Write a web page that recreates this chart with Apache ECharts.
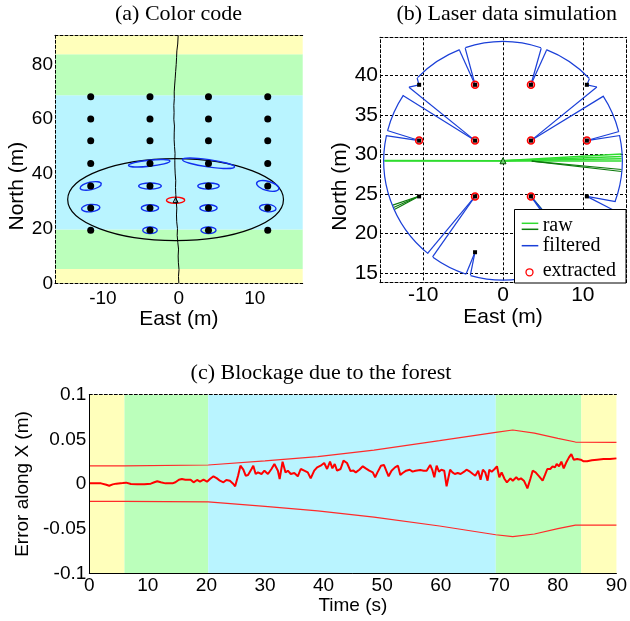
<!DOCTYPE html>
<html>
<head>
<meta charset="utf-8">
<script src="https://cdn.jsdelivr.net/npm/echarts@6/dist/echarts.min.js"></script>
<style>
  html, body { margin: 0; padding: 0; background: #fff; }
  #chart { width: 630px; height: 621px; }
</style>
</head>
<body>
<div id="chart"></div>
<script>
// ---------- (a) colour code ----------
var bandNorthA = [0, 5.2, 19.7, 68.8, 83.8, 90.8];
var bandKindA = ['open', 'edge', 'forest', 'edge', 'open'];
var treeEastA = [-11.6, -3.8, 3.9, 11.7];
var treeNorthA = [19.4, 27.5, 35.6, 43.8, 52.1, 60.1, 68.2];
var trajNorth = [0, 2.5, 5, 7.5, 10, 12.5, 15, 17.5, 20, 22.5, 25, 27.5, 30, 32.5, 35, 37.5, 40, 42.5, 45,
  47.5, 50, 52.5, 55, 57.5, 60, 62.5, 65, 67.5, 70, 72.5, 75, 77.5, 80, 82.5, 85, 87.5, 90.6];
var trajEast = [0.00, -0.05, 0.02, -0.06, -0.09, -0.04, -0.14, -0.22, -0.18, -0.28, -0.31, -0.27, -0.35,
  -0.40, -0.44, -0.41, -0.48, -0.52, -0.53, -0.50, -0.57, -0.62, -0.61, -0.58, -0.66, -0.63, -0.66,
  -0.60, -0.61, -0.55, -0.48, -0.42, -0.35, -0.30, -0.26, -0.15, -0.09];
// uncertainty ellipses of the mapped trees: centre, semi axes (m), tilt (deg)
var ellEast = [-3.9, 3.9, -11.6, -3.8, 3.9, 11.7, -11.6, -3.8, 3.9, 11.7, -3.8, 3.9];
var ellNorth = [43.9, 43.9, 35.6, 35.6, 35.6, 35.6, 27.5, 27.5, 27.5, 27.5, 19.4, 19.4];
var ellSemiE = [2.74, 3.46, 1.42, 1.49, 1.41, 1.51, 1.21, 1.14, 1.14, 1.09, 0.95, 0.99];
var ellSemiN = [1.1, 1.35, 1.39, 1.1, 1.1, 1.7, 1.35, 1.2, 1.2, 1.35, 1.2, 1.2];
var ellTilt = [6, -8, 12, 0, 0, -15, 5, 0, 0, -5, 0, 0];
var vehicleA = [-0.43, 30.4];
var vehicleEllA = [-0.43, 30.4, 1.2, 1.1, 0];
var rangeEllA = [-0.43, 30.6, 14.2, 15.0, 0];

// ---------- (b) laser data simulation ----------
var scanOrigin = [0, 29.2];
var scanMax = 15;
var scanBearing = [-74.2, -73.1, -72.1, -54.0, -52.1, -51.1, -24.2, -23.2, -20.1, 12.3, 13.7, 14.3,
  33.0, 36.1, 38.4, 42.4, 43.8, 68.7, 70.0, 71.4, 108.4, 110.0, 111.3, 135.8, 137.6, 141.7, 143.9,
  146.6, 165.2, 166.3, 167.8, 231.1, 232.1, 234.0, 252.1, 253.1, 254.2];
var scanRange = [15, 12.07, 15, 15, 5.70, 15, 15, 11.42, 15, 15, 10.80, 15, 15, 4.33, 15, 14.23, 15,
  15, 10.22, 15, 15, 10.22, 15, 15, 14.23, 15, 4.33, 15, 15, 10.80, 15, 15, 5.70, 15, 15, 12.07, 15];
var treesB = [[-10.5, 38.8], [-3.5, 38.8], [3.5, 38.8], [10.5, 38.8], [-10.5, 31.75], [-3.5, 31.75],
  [3.5, 31.75], [10.5, 31.75], [-10.5, 24.7], [-3.5, 24.7], [3.5, 24.7], [10.5, 24.7], [-3.5, 17.65], [3.5, 17.65]];
var extractedB = [[-3.5, 38.8], [3.5, 38.8], [-10.5, 31.75], [-3.5, 31.75], [3.5, 31.75], [10.5, 31.75],
  [-3.5, 24.7], [3.5, 24.7]];
var rawLightFrom = [[0, 29.2], [0, 29.2], [0, 29.2], [0, 29.2], [0, 29.2], [0, 29.2]];
var rawLightTo = [[-14.85, 29.15], [-14.85, 29.25], [14.85, 30.05], [14.85, 29.75], [14.85, 29.45], [14.85, 29.2]];
var rawDarkFrom = [[3.6, 29.15], [3.6, 29.15], [-10.45, 24.75], [-10.45, 24.75], [-10.45, 24.75], [3.6, 24.6]];
var rawDarkTo = [[14.85, 28.1], [14.85, 27.85], [-13.8, 23.6], [-13.7, 23.3], [-13.6, 23.05], [9.6, 17.3]];

// ---------- (c) blockage due to the forest ----------
var bandTimeC = [0, 6, 20.3, 69.4, 84, 90];
var bandKindC = ['open', 'edge', 'forest', 'edge', 'open'];
var boundT = [0, 6, 20.3, 30, 39, 48.6, 59.8, 69.4, 72.3, 76, 80, 83, 90];
var boundUp = [0.0202, 0.0202, 0.0213, 0.026, 0.0306, 0.038, 0.0485, 0.0578, 0.0605, 0.057, 0.051, 0.047, 0.0466];
var boundLo = [-0.0195, -0.0195, -0.020, -0.025, -0.030, -0.037, -0.047, -0.0568, -0.059, -0.056, -0.050, -0.046, -0.046];
var errT = [0, 0.6, 2.0, 2.3, 2.9, 3.4, 4.0, 4.6, 5.7, 6.3, 7.1, 8.2, 9.4, 10.5, 11.1, 11.6, 12.2, 13.0,
  14.2, 14.7, 15.3, 15.8, 16.4, 16.7, 17.3, 17.8, 18.4, 18.9, 19.5, 20.1, 20.4, 20.6, 21.2, 21.8, 22.3,
  22.9, 23.4, 24.0, 24.6, 24.9, 25.4, 25.8, 26.3, 26.7, 27.1, 27.7, 28.0, 28.4, 28.8, 29.4, 29.9, 30.5,
  31.1, 31.6, 32.2, 32.5, 33.0, 33.5, 33.9, 34.4, 35.0, 35.6, 36.1, 36.7, 37.3, 37.8, 38.4, 38.9, 39.5,
  40.1, 40.6, 41.1, 41.5, 41.9, 42.3, 42.9, 43.4, 44.0, 44.6, 45.1, 45.5, 46.1, 46.7, 47.2, 47.8, 48.4,
  48.8, 49.2, 49.8, 50.3, 50.7, 51.1, 51.6, 52.2, 52.7, 53.1, 53.5, 54.1, 54.7, 55.2, 55.7, 56.0, 56.5,
  57.1, 57.6, 57.9, 58.2, 58.6, 58.9, 59.3, 59.7, 60.1, 60.6, 61.0, 61.6, 62.0, 62.4, 62.9, 63.4, 64.0,
  64.4, 65.0, 65.5, 65.9, 66.4, 66.8, 67.2, 67.6, 68.0, 68.3, 68.7, 69.2, 69.6, 70.0, 70.4, 70.9, 71.3,
  71.9, 72.3, 72.9, 73.3, 73.7, 74.2, 74.6, 74.8, 75.3, 75.7, 76.2, 76.8, 77.4, 77.8, 78.2, 78.7, 79.1,
  79.5, 79.8, 80.2, 80.6, 81.0, 81.5, 81.9, 82.3, 82.7, 83.3, 83.9, 84.4, 85.0, 85.8, 86.7, 87.8, 88.9, 90.0];
var errX = [0.0007, 0.0007, 0.0007, 0.0000, -0.0008, -0.0019, -0.0004, 0.0004, 0.0011, 0.0015, 0.0000,
  -0.0004, -0.0004, 0.0004, 0.0019, 0.0030, 0.0019, 0.0007, 0.0007, 0.0019, 0.0048, 0.0056, 0.0048,
  0.0026, 0.0048, 0.0019, 0.0045, 0.0026, 0.0048, 0.0026, 0.0007, 0.0056, 0.0086, 0.0063, 0.0037,
  0.0019, 0.0045, 0.0037, 0.0000, -0.0026, 0.0093, 0.0205, 0.0160, 0.0093, 0.0100, 0.0168, 0.0205,
  0.0112, 0.0130, 0.0112, 0.0149, 0.0112, 0.0168, 0.0224, 0.0149, 0.0056, 0.0250, 0.0130, 0.0149,
  0.0112, 0.0123, 0.0086, 0.0168, 0.0149, 0.0130, 0.0063, 0.0149, 0.0186, 0.0205, 0.0235, 0.0168,
  0.0250, 0.0175, 0.0224, 0.0149, 0.0168, 0.0261, 0.0235, 0.0145, 0.0150, 0.0130, 0.0160, 0.0198,
  0.0175, 0.0149, 0.0130, 0.0075, 0.0130, 0.0205, 0.0213, 0.0149, 0.0086, 0.0149, 0.0186, 0.0205,
  0.0101, 0.0123, 0.0149, 0.0160, 0.0138, 0.0149, 0.0142, 0.0157, 0.0149, 0.0149, 0.0160, 0.0213,
  0.0149, 0.0075, 0.0205, 0.0138, 0.0160, 0.0149, -0.0026, 0.0160, 0.0130, 0.0112, 0.0123, 0.0112,
  0.0138, 0.0160, 0.0138, 0.0112, 0.0093, 0.0149, 0.0048, 0.0160, 0.0130, 0.0037, 0.0160, 0.0138,
  0.0168, 0.0198, 0.0075, 0.0130, 0.0056, 0.0019, 0.0063, 0.0037, 0.0075, 0.0048, 0.0063, 0.0037,
  -0.0019, -0.0049, 0.0056, 0.0149, 0.0130, 0.0086, 0.0037, 0.0101, 0.0168, 0.0168, 0.0198, 0.0186,
  0.0224, 0.0198, 0.0250, 0.0175, 0.0250, 0.0298, 0.0335, 0.0272, 0.0280, 0.0272, 0.0254, 0.0254,
  0.0265, 0.0272, 0.0280, 0.0280, 0.0287];

// ---------- styling ----------
var sans = '"Liberation Sans", Arial, Helvetica, sans-serif';
var serif = '"Liberation Serif", "Times New Roman", Times, serif';
var bandColor = { open: '#FFFFBB', edge: '#BBFFBB', forest: '#B9F4FF' };
var blue = '#1a3fd8';
var lightGreen = '#2fdc2f';
var darkGreen = '#0b7a0b';
var dash = [3, 2];

function zip(a, b) { return a.map(function (v, i) { return [v, b[i]]; }); }
function bandData(edges, kinds) {
  return kinds.map(function (k, i) {
    return { value: [edges[i], edges[i + 1]], itemStyle: { color: bandColor[k] } };
  });
}
function ellipseData(e, n, a, b, t) {
  return e.map(function (v, i) { return [v, n[i], a[i], b[i], t[i]]; });
}
function ellipseRenderer(color, width) {
  return function (params, api) {
    var c = api.coord([api.value(0), api.value(1)]);
    var s = api.size([api.value(2), api.value(3)]);
    return {
      type: 'ellipse', x: c[0], y: c[1], rotation: api.value(4) * Math.PI / 180,
      shape: { cx: 0, cy: 0, rx: s[0], ry: s[1] },
      style: { fill: 'none', stroke: color, lineWidth: width }
    };
  };
}
function northBand(params, api) {
  var cs = params.coordSys;
  var y1 = api.coord([0, api.value(1)])[1];
  var y0 = api.coord([0, api.value(0)])[1];
  return { type: 'rect', shape: { x: cs.x, y: y1, width: cs.width, height: y0 - y1 },
    style: { fill: api.visual('color') } };
}
function timeBand(params, api) {
  var cs = params.coordSys;
  var x0 = api.coord([api.value(0), 0])[0];
  var x1 = api.coord([api.value(1), 0])[0];
  return { type: 'rect', shape: { x: x0, y: cs.y, width: x1 - x0, height: cs.height },
    style: { fill: api.visual('color') } };
}
function scanPoint(b, r) {
  var a = b * Math.PI / 180;
  return [scanOrigin[0] + r * Math.cos(a), scanOrigin[1] + r * Math.sin(a)];
}
function scanRenderer(params, api) {
  var b1 = api.value(0), r1 = api.value(1), b2 = api.value(2), r2 = api.value(3);
  if (b2 < b1) b2 += 360;
  var style = { fill: 'none', stroke: blue, lineWidth: 1.2 };
  if (r1 >= scanMax && r2 >= scanMax) {
    var c = api.coord(scanOrigin);
    var s = api.size([scanMax, scanMax]);
    return { type: 'arc', shape: { cx: c[0], cy: c[1], r: (s[0] + s[1]) / 2,
      startAngle: -b1 * Math.PI / 180, endAngle: -b2 * Math.PI / 180, clockwise: false }, style: style };
  }
  var p1 = api.coord(scanPoint(b1, r1));
  var p2 = api.coord(scanPoint(b2, r2));
  return { type: 'line', shape: { x1: p1[0], y1: p1[1], x2: p2[0], y2: p2[1] }, style: style };
}
var scanSegs = scanBearing.map(function (b, i) {
  var j = (i + 1) % scanBearing.length;
  return [b, scanRange[i], scanBearing[j], scanRange[j]];
});
function segs(from, to) { return from.map(function (p, i) { return { coords: [p, to[i]] }; }); }

var treesA = [];
treeNorthA.forEach(function (n) { treeEastA.forEach(function (e) { treesA.push([e, n]); }); });

function labelStyle(size, margin, values) {
  var o = { color: '#000', fontFamily: sans, fontSize: size, margin: margin };
  if (values) o.customValues = values;
  return o;
}
function nameStyle(size, pad) {
  return { color: '#000', fontFamily: sans, fontSize: size, padding: pad || 0 };
}
function borderAxis(grid, pos, min, max, type) {
  return { type: 'value', gridIndex: grid, position: pos, min: min, max: max, z: 5,
    axisLine: { show: true, onZero: false, lineStyle: { color: '#000', width: 1, type: type } },
    axisTick: { show: false }, axisLabel: { show: false }, splitLine: { show: false } };
}

var titleText = { fontFamily: serif, fontSize: 22, fontWeight: 'normal', color: '#000' };

var option = {
  animation: false,
  backgroundColor: '#fff',
  title: [
    { text: '(a) Color code', left: 178.5, top: 3, textAlign: 'center', textStyle: titleText, padding: 0 },
    { text: '(b) Laser data simulation', left: 506.7, top: 3, textAlign: 'center', textStyle: titleText, padding: 0 },
    { text: '(c) Blockage due to the forest', left: 321, top: 362, textAlign: 'center', textStyle: titleText, padding: 0 }
  ],
  grid: [
    { left: 55, top: 35, width: 247.7, height: 248.3 },
    { left: 380, top: 37.3, width: 246, height: 245.4 },
    { left: 89.3, top: 394.7, width: 532.4, height: 178.6 }
  ],
  xAxis: [
    Object.assign(borderAxis(0, 'bottom', -16.3, 16.3, dash), {
      axisLabel: labelStyle(19, 6, [-10, 0, 10]),
      name: 'East (m)', nameLocation: 'middle', nameGap: 21, nameTextStyle: nameStyle(21)
    }),
    borderAxis(0, 'top', -16.3, 16.3, dash),
    Object.assign(borderAxis(1, 'bottom', -15.4, 15.4, dash), {
      z: 0,
      axisLabel: labelStyle(21, 2, [-10, 0, 10]),
      axisTick: { show: false, customValues: [-10, 0, 10] },
      splitLine: { show: true, lineStyle: { color: '#000', width: 1, type: dash } },
      name: 'East (m)', nameLocation: 'middle', nameGap: 20, nameTextStyle: nameStyle(21)
    }),
    Object.assign(borderAxis(1, 'top', -15.4, 15.4, dash), { z: 0 }),
    Object.assign(borderAxis(2, 'bottom', 0, 90, 'solid'), {
      interval: 10,
      axisLabel: labelStyle(19, 3),
      name: 'Time (s)', nameLocation: 'middle', nameGap: 22, nameTextStyle: nameStyle(19)
    }),
    borderAxis(2, 'top', 0, 90, dash)
  ],
  yAxis: [
    Object.assign(borderAxis(0, 'left', 0, 90.8, dash), {
      axisLabel: labelStyle(19, 2, [0, 20, 40, 60, 80]),
      name: 'North (m)', nameLocation: 'middle', nameGap: 26, nameTextStyle: nameStyle(21, [0, 54, 0, 0])
    }),
    Object.assign(borderAxis(1, 'left', 13.8, 44.8, dash), {
      z: 0,
      axisLabel: labelStyle(21, 2, [15, 20, 25, 30, 35, 40]),
      axisTick: { show: false, customValues: [15, 20, 25, 30, 35, 40] },
      splitLine: { show: true, lineStyle: { color: '#000', width: 1, type: dash } },
      name: 'North (m)', nameLocation: 'middle', nameGap: 25, nameTextStyle: nameStyle(21, [0, 53, 0, 0])
    }),
    Object.assign(borderAxis(1, 'right', 13.8, 44.8, dash), { z: 0 }),
    Object.assign(borderAxis(2, 'left', -0.1, 0.1, 'solid'), {
      interval: 0.05,
      axisLabel: labelStyle(19, 3),
      name: 'Error along X (m)', nameLocation: 'middle', nameGap: 52, nameTextStyle: nameStyle(19)
    })
  ],
  series: [
    // (a)
    { type: 'custom', xAxisIndex: 0, yAxisIndex: 0, z: 1, silent: true,
      renderItem: northBand, data: bandData(bandNorthA, bandKindA) },
    { type: 'custom', xAxisIndex: 0, yAxisIndex: 0, silent: true,
      renderItem: ellipseRenderer('#000', 1.2), data: [rangeEllA] },
    { type: 'custom', xAxisIndex: 0, yAxisIndex: 0, silent: true,
      renderItem: ellipseRenderer('#1030f0', 1.4),
      data: ellipseData(ellEast, ellNorth, ellSemiE, ellSemiN, ellTilt) },
    { type: 'line', xAxisIndex: 0, yAxisIndex: 0, symbol: 'none', silent: true,
      lineStyle: { color: '#000', width: 1 }, data: zip(trajEast, trajNorth) },
    { type: 'scatter', xAxisIndex: 0, yAxisIndex: 0, symbolSize: 7, silent: true,
      itemStyle: { color: '#000', opacity: 1 }, data: treesA },
    { type: 'custom', xAxisIndex: 0, yAxisIndex: 0, silent: true,
      renderItem: ellipseRenderer('#ff0000', 1.4), data: [vehicleEllA] },
    { type: 'scatter', xAxisIndex: 0, yAxisIndex: 0, symbol: 'triangle', symbolSize: 5, silent: true,
      itemStyle: { color: 'none', borderColor: '#000', borderWidth: 1, opacity: 1 }, data: [vehicleA] },
    // (b)
    { type: 'lines', coordinateSystem: 'cartesian2d', xAxisIndex: 2, yAxisIndex: 1, silent: true,
      lineStyle: { color: lightGreen, width: 1.5, opacity: 1 }, data: segs(rawLightFrom, rawLightTo) },
    { type: 'lines', coordinateSystem: 'cartesian2d', xAxisIndex: 2, yAxisIndex: 1, silent: true,
      lineStyle: { color: darkGreen, width: 1.2, opacity: 1 }, data: segs(rawDarkFrom, rawDarkTo) },
    { type: 'custom', xAxisIndex: 2, yAxisIndex: 1, silent: true, renderItem: scanRenderer, data: scanSegs },
    { type: 'scatter', xAxisIndex: 2, yAxisIndex: 1, symbolSize: 7, silent: true,
      itemStyle: { color: 'rgba(255,90,90,0.45)', borderColor: '#ff0000', borderWidth: 1.5, opacity: 1 },
      data: extractedB },
    { type: 'scatter', xAxisIndex: 2, yAxisIndex: 1, symbol: 'rect', symbolSize: 4, silent: true,
      itemStyle: { color: '#000', opacity: 1 }, data: treesB },
    { type: 'scatter', xAxisIndex: 2, yAxisIndex: 1, symbol: 'triangle', symbolSize: 6, silent: true,
      itemStyle: { color: '#6ccf6c', borderColor: '#064d06', borderWidth: 1, opacity: 1 }, data: [scanOrigin] },
    // (c)
    { type: 'custom', xAxisIndex: 4, yAxisIndex: 3, z: 1, silent: true,
      renderItem: timeBand, data: bandData(bandTimeC, bandKindC) },
    { type: 'line', xAxisIndex: 4, yAxisIndex: 3, symbol: 'none', silent: true,
      lineStyle: { color: '#ff2a2a', width: 1.2 }, data: zip(boundT, boundUp) },
    { type: 'line', xAxisIndex: 4, yAxisIndex: 3, symbol: 'none', silent: true,
      lineStyle: { color: '#ff2a2a', width: 1.2 }, data: zip(boundT, boundLo) },
    { type: 'line', xAxisIndex: 4, yAxisIndex: 3, symbol: 'none', silent: true,
      lineStyle: { color: '#ff0000', width: 2 }, data: zip(errT, errX) }
  ],
  graphic: [
    { type: 'rect', z: 100, shape: { x: 514.5, y: 209.5, width: 111.5, height: 73.5 },
      style: { fill: '#fff', stroke: '#000', lineWidth: 1 } },
    { type: 'line', z: 101, shape: { x1: 521.7, y1: 223.3, x2: 538.3, y2: 223.3 },
      style: { stroke: lightGreen, lineWidth: 1.5 } },
    { type: 'line', z: 101, shape: { x1: 521.7, y1: 229.3, x2: 538.3, y2: 229.3 },
      style: { stroke: darkGreen, lineWidth: 1.5 } },
    { type: 'line', z: 101, shape: { x1: 521.7, y1: 245.7, x2: 538.3, y2: 245.7 },
      style: { stroke: blue, lineWidth: 1.5 } },
    { type: 'circle', z: 101, shape: { cx: 529.5, cy: 272.3, r: 3.5 },
      style: { fill: 'none', stroke: '#ff0000', lineWidth: 1.3 } },
    { type: 'text', z: 101, x: 542.7, y: 226, style: { text: 'raw', font: '20px ' + serif,
      fill: '#000', verticalAlign: 'middle' } },
    { type: 'text', z: 101, x: 542.7, y: 246, style: { text: 'filtered', font: '20px ' + serif,
      fill: '#000', verticalAlign: 'middle' } },
    { type: 'text', z: 101, x: 542.7, y: 271, style: { text: 'extracted', font: '20px ' + serif,
      fill: '#000', verticalAlign: 'middle' } }
  ]
};

var myChart = echarts.init(document.getElementById('chart'));
myChart.setOption(option);
window.addEventListener('resize', function () { myChart.resize(); });
</script>
</body>
</html>
